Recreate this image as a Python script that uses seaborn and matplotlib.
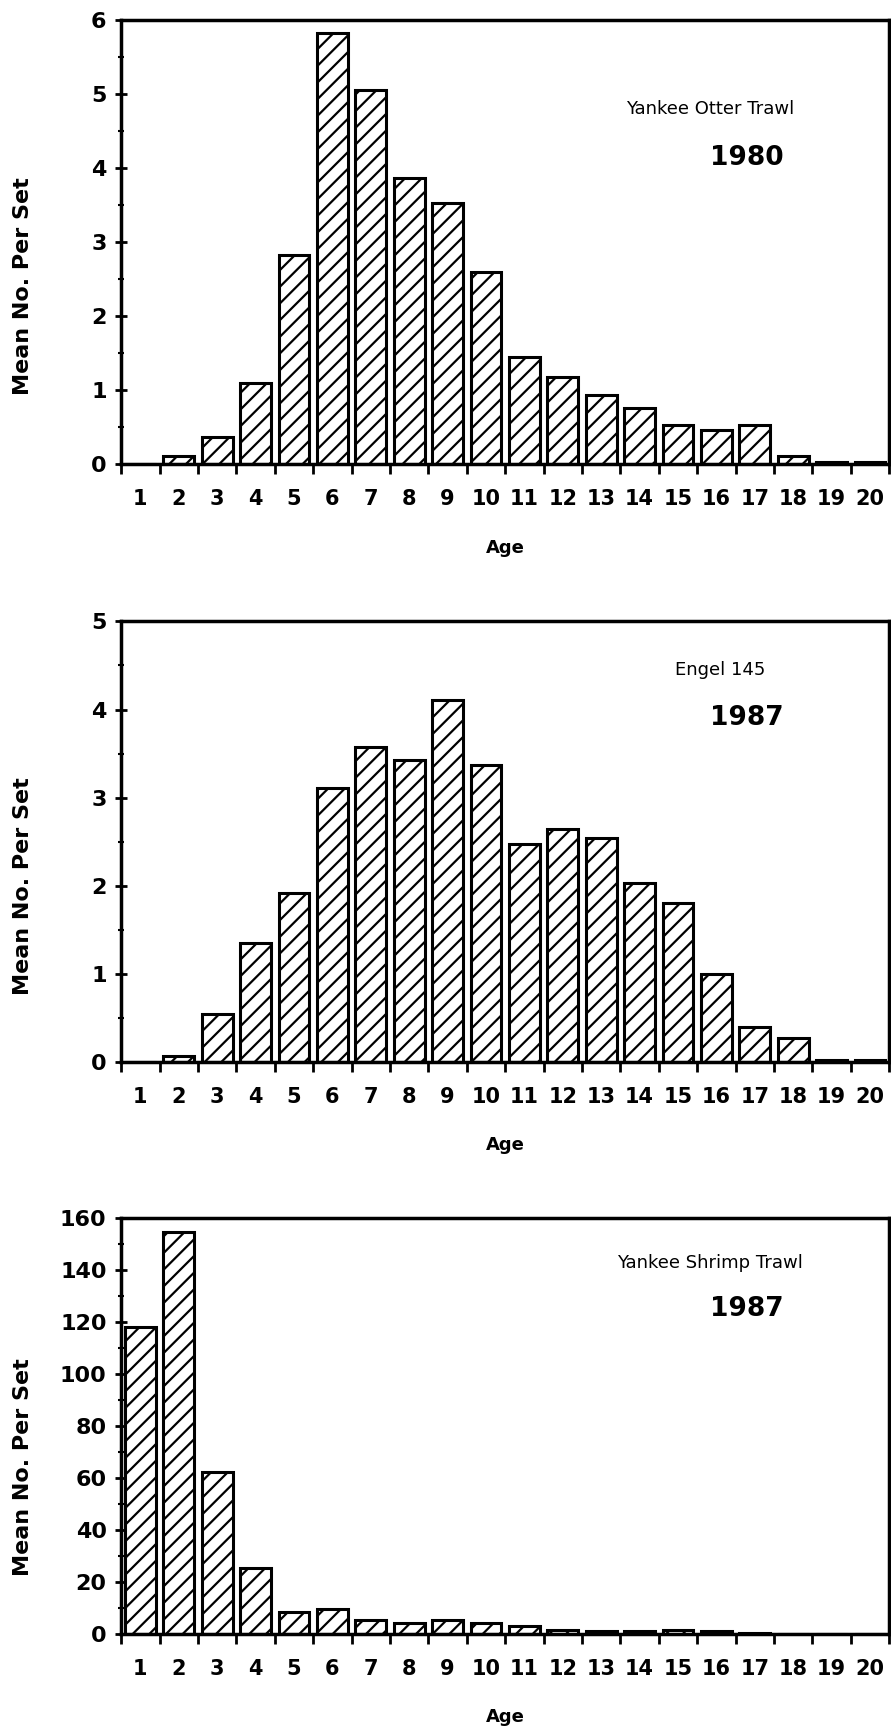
import numpy as np
import pandas as pd
import matplotlib
matplotlib.use("Agg")
import matplotlib.pyplot as plt
from matplotlib.ticker import MultipleLocator
import seaborn as sns

# ages on the x axis
ages = list(range(1, 21))

# mean number per set
otter_1980 = [0.0, 0.11, 0.36, 1.10, 2.83, 5.82, 5.05, 3.87, 3.52, 2.60,
              1.44, 1.17, 0.93, 0.76, 0.52, 0.46, 0.52, 0.11, 0.02, 0.02]
engel_1987 = [0.0, 0.07, 0.54, 1.35, 1.92, 3.11, 3.57, 3.43, 4.11, 3.37,
              2.47, 2.64, 2.54, 2.03, 1.80, 1.00, 0.40, 0.27, 0.02, 0.02]
shrimp_1987 = [118, 154.3, 62.2, 25.5, 8.6, 9.5, 5.3, 4.2, 5.3, 4.2,
               3.2, 1.6, 1.3, 1.3, 1.6, 1.0, 0.2, 0.1, 0.0, 0.0]

gear_names = ["Yankee Otter Trawl", "Engel 145", "Yankee Shrimp Trawl"]
years = ["1980", "1987", "1987"]
ymax = [6, 5, 160]
ymajor = [1, 1, 20]
yminor = [0.5, 0.5, 10]

sns.set_style("ticks")
plt.rcParams["font.family"] = ["DejaVu Sans"]
plt.rcParams["hatch.linewidth"] = 1.6
plt.rcParams["hatch.color"] = "black"
for k in ["text.color", "axes.labelcolor", "xtick.color", "ytick.color"]:
    plt.rcParams[k] = "black"

fig = plt.figure(figsize=(8.91, 17.28), dpi=100)
# [left, bottom, width, height] in figure fraction
boxes = [[0.136, 0.7315, 0.862, 0.257],
         [0.136, 0.3854, 0.862, 0.255],
         [0.136, 0.0544, 0.862, 0.241]]

all_vals = [otter_1980, engel_1987, shrimp_1987]
age_y = [-0.17, -0.168, -0.178]
name_pos = [(0.767, 0.80), (0.78, 0.89), (0.767, 0.89)]
year_pos = [(0.815, 0.69), (0.815, 0.78), (0.815, 0.78)]

for i in range(3):
    ax = fig.add_axes(boxes[i])
    df = pd.DataFrame({"Age": ages, "Mean": all_vals[i]})
    sns.barplot(data=df, x="Age", y="Mean", native_scale=True, width=0.8,
                color="white", saturation=1, edgecolor="black", linewidth=2.2,
                hatch="//", ax=ax)
    ax.set_xlim(0.5, 20.5)
    ax.set_ylim(0, ymax[i])

    # ticks between bars, labels under bars
    ax.set_xticks(np.arange(0.5, 21, 1))
    ax.set_xticklabels([])
    ax.set_xticks(ages, minor=True)
    ax.set_xticklabels([str(a) for a in ages], minor=True,
                       fontsize=15, fontweight="bold")
    ax.tick_params(axis="x", which="major", direction="out", length=7, width=2)
    ax.tick_params(axis="x", which="minor", length=0, pad=18)

    ax.yaxis.set_major_locator(MultipleLocator(ymajor[i]))
    ax.yaxis.set_minor_locator(MultipleLocator(yminor[i]))
    ax.tick_params(axis="y", which="major", direction="inout", length=9, width=2,
                   labelsize=16, pad=6)
    ax.tick_params(axis="y", which="minor", direction="inout", length=5, width=1.5)
    for lab in ax.get_yticklabels():
        lab.set_fontweight("bold")

    for s in ax.spines.values():
        s.set_visible(True)
        s.set_linewidth(2.5)
        s.set_color("black")

    ax.set_ylabel("Mean No. Per Set", fontsize=16, fontweight="black")
    ax.yaxis.set_label_coords(-0.115, 0.40)
    ax.set_xlabel("Age", fontsize=13, fontweight="black")
    ax.xaxis.set_label_coords(0.5, age_y[i])

    ax.text(name_pos[i][0], name_pos[i][1], gear_names[i], transform=ax.transAxes,
            ha="center", va="center", fontsize=13)
    ax.text(year_pos[i][0], year_pos[i][1], years[i], transform=ax.transAxes,
            ha="center", va="center", fontsize=19, fontweight="bold")

fig.savefig("out.png", dpi=100)
